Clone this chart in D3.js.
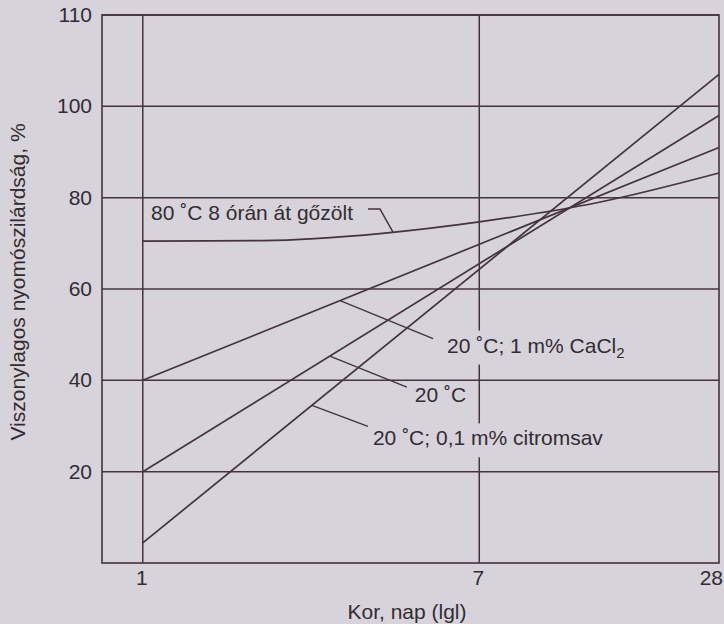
<!DOCTYPE html>
<html>
<head>
<meta charset="utf-8">
<script src="https://cdn.jsdelivr.net/npm/d3@7"></script>
<style>
  html, body { margin: 0; padding: 0; background: #d7d3db; }
  svg { display: block; }
  text { font-family: "Liberation Sans", Arial, sans-serif; fill: #332c31; }
</style>
</head>
<body>
<svg id="chart" width="724" height="624"></svg>
<script>
// Age of the concrete, days (log axis)
const lineDays = [1, 28];
const cacl2Strength = [40, 91];      // 20 °C; 1 m% CaCl2
const plainStrength = [20, 98];      // 20 °C
const citricStrength = [4.4, 107];   // 20 °C; 0,1 m% citromsav

const steamDays = [1, 2, 4, 7, 14, 28];
const steamStrength = [70.5, 70.6, 72.2, 74.7, 79, 85.4]; // 80 °C, 8 h steam cured

const xTickValues = [1, 7, 28];
const xTickLabels = ["1", "7", "28"];
// gridline values; the top line is printed as "110"
const yTickValues = [20, 40, 60, 80, 100, 120];
const yTickLabels = ["20", "40", "60", "80", "100", "110"];

const ink = "#43343f";
const bg = "#d7d3db";

const svg = d3.select("#chart");
const plotLeft = 102, plotRight = 719, plotTop = 15, plotBottom = 563;

const x = d3.scaleLog().domain([0.79, 28]).range([plotLeft, plotRight]);
const y = d3.scaleLinear().domain([0, 120]).range([plotBottom, plotTop]);

// strength on a series at a given day, read along log(day)
function valueAt(days, vals, d) {
  const lx = days.map(Math.log);
  const s = d3.scaleLinear().domain(lx).range(vals);
  return s(Math.log(d));
}

const g = svg.append("g");

// horizontal gridlines
g.selectAll("line.h").data(yTickValues).join("line")
  .attr("x1", plotLeft).attr("x2", plotRight)
  .attr("y1", d => y(d)).attr("y2", d => y(d))
  .attr("stroke", ink).attr("stroke-width", 1.5);

// vertical gridlines at 1 and 7 days
g.selectAll("line.v").data([1, 7]).join("line")
  .attr("x1", d => x(d)).attr("x2", d => x(d))
  .attr("y1", plotTop).attr("y2", plotBottom)
  .attr("stroke", ink).attr("stroke-width", 1.5);

// frame
g.append("rect")
  .attr("x", plotLeft).attr("y", plotTop)
  .attr("width", plotRight - plotLeft).attr("height", plotBottom - plotTop)
  .attr("fill", "none").attr("stroke", ink).attr("stroke-width", 1.6);

// y tick labels
g.selectAll("text.yt").data(yTickValues).join("text")
  .attr("x", 92).attr("y", d => y(d) + 7)
  .attr("text-anchor", "end").attr("font-size", 21)
  .text((d, i) => yTickLabels[i]);

// x tick labels
g.selectAll("text.xt").data(xTickValues).join("text")
  .attr("x", d => x(d)).attr("y", 585)
  .attr("text-anchor", (d, i) => i === xTickValues.length - 1 ? "end" : "middle")
  .attr("dx", (d, i) => i === xTickValues.length - 1 ? 4 : -1)
  .attr("font-size", 21)
  .text((d, i) => xTickLabels[i]);

// axis titles
g.append("text")
  .attr("x", 407).attr("y", 619)
  .attr("text-anchor", "middle").attr("font-size", 21)
  .text("Kor, nap (lgl)");

g.append("text")
  .attr("transform", "translate(25,282) rotate(-90)")
  .attr("text-anchor", "middle").attr("font-size", 21)
  .text("Viszonylagos nyomószilárdság, %");

// series lines
const lineGen = d3.line().x(d => x(d[0])).y(d => y(d[1]));
const straight = [cacl2Strength, plainStrength, citricStrength];
g.selectAll("path.series").data(straight).join("path")
  .attr("d", vals => lineGen(lineDays.map((d, i) => [d, vals[i]])))
  .attr("fill", "none").attr("stroke", ink).attr("stroke-width", 1.7);

g.append("path")
  .attr("d", lineGen.curve(d3.curveMonotoneX)(steamDays.map((d, i) => [d, steamStrength[i]])))
  .attr("fill", "none").attr("stroke", ink).attr("stroke-width", 1.7);

// labels with leader lines
const notes = [
  { days: lineDays, vals: cacl2Strength, at: 3.13, dx: 93, dy: 38, tx: 14, ty: 14,
    parts: ["20 ˚C; 1 m% CaCl", "2"], cover: true },
  { days: lineDays, vals: plainStrength, at: 2.95, dx: 77, dy: 31, tx: 8, ty: 15,
    parts: ["20 ˚C"], cover: false },
  { days: lineDays, vals: citricStrength, at: 2.66, dx: 56, dy: 21, tx: 5, ty: 19,
    parts: ["20 ˚C; 0,1 m% citromsav"], cover: true }
];

notes.forEach(n => {
  const px = x(n.at), py = y(valueAt(n.days, n.vals, n.at));
  const ex = px + n.dx, ey = py + n.dy;
  g.append("line")
    .attr("x1", px).attr("y1", py).attr("x2", ex).attr("y2", ey)
    .attr("stroke", ink).attr("stroke-width", 1.4);
  const tx = ex + n.tx, ty = ey + n.ty;
  const grp = g.append("g");
  const t = grp.append("text").attr("x", tx).attr("y", ty).attr("font-size", 21);
  t.append("tspan").text(n.parts[0]);
  if (n.parts[1]) {
    t.append("tspan").attr("font-size", 15).attr("dy", 5).text(n.parts[1]);
  }
  if (n.cover) {
    const bb = t.node().getBBox();
    grp.insert("rect", "text")
      .attr("x", bb.x - 3).attr("y", ty - 22)
      .attr("width", bb.width + 6).attr("height", 34)
      .attr("fill", bg);
  }
});

// steam-cured curve label
{
  const at = 4.25;
  const px = x(at), py = y(valueAt(steamDays, steamStrength, at));
  const kx = px - 13, ky = py - 23;
  g.append("path")
    .attr("d", `M${px},${py}L${kx},${ky}L${kx - 12},${ky}`)
    .attr("fill", "none").attr("stroke", ink).attr("stroke-width", 1.4);
  g.append("text")
    .attr("x", kx - 12 - 15).attr("y", ky + 11)
    .attr("text-anchor", "end").attr("font-size", 21)
    .text("80 ˚C 8 órán át gőzölt");
}
</script>
</body>
</html>
